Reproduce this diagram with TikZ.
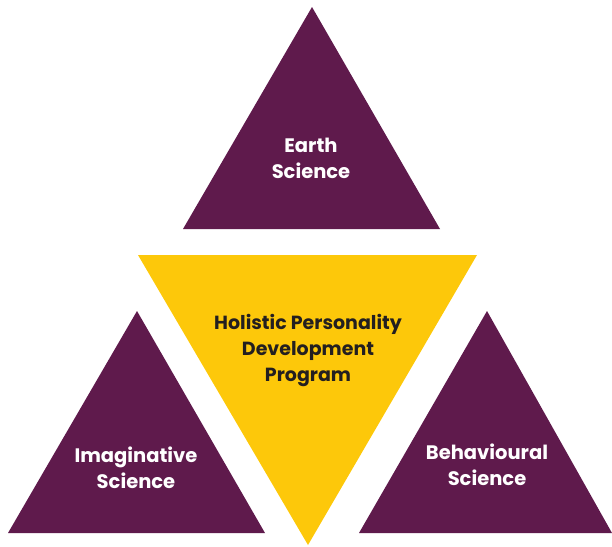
\documentclass[tikz,border=0pt]{standalone}
\usepackage{fontspec}
\setmainfont{Poppins}
\definecolor{plum}{HTML}{5F1A4C}
\definecolor{gold}{HTML}{FDC80A}
\definecolor{ink}{HTML}{231F20}
\begin{document}
\begin{tikzpicture}[x=1pt,y=-1pt,
  tri/.style={fill=plum,draw=none},
  inv/.style={fill=gold,draw=none},
  lbl/.style={text=white,font=\bfseries\fontsize{19.5}{26}\selectfont,align=center,inner sep=0pt},
  lbldark/.style={text=ink,font=\bfseries\fontsize{19}{26}\selectfont,align=center,inner sep=0pt}]
\useasboundingbox (0,0) rectangle (612,546);
% top triangle
\coordinate (tA) at (312,7);
\coordinate (tL) at (183,229);
\coordinate (tR) at (440,229);
\fill[tri] (tA) -- (tL) -- (tR) -- cycle;
% central inverted triangle
\coordinate (cL) at (138,255);
\coordinate (cR) at (477,255);
\coordinate (cB) at (308,545);
\fill[inv] (cL) -- (cR) -- (cB) -- cycle;
% left triangle
\coordinate (lA) at (137,311);
\coordinate (lL) at (8,533);
\coordinate (lR) at (265,533);
\fill[tri] (lA) -- (lL) -- (lR) -- cycle;
% right triangle
\coordinate (rA) at (487,311);
\coordinate (rL) at (359,533);
\coordinate (rR) at (612,533);
\fill[tri] (rA) -- (rL) -- (rR) -- cycle;
% labels
\node[lbl] (earth) at (311,158) {Earth\\Science};
\node[lbldark] (hol) at (308,350) {Holistic Personality\\Development\\Program};
\node[lbl] (imag) at (136,468) {Imaginative\\Science};
\node[lbl] (beh) at (487,465) {Behavioural\\Science};
\end{tikzpicture}
\end{document}
